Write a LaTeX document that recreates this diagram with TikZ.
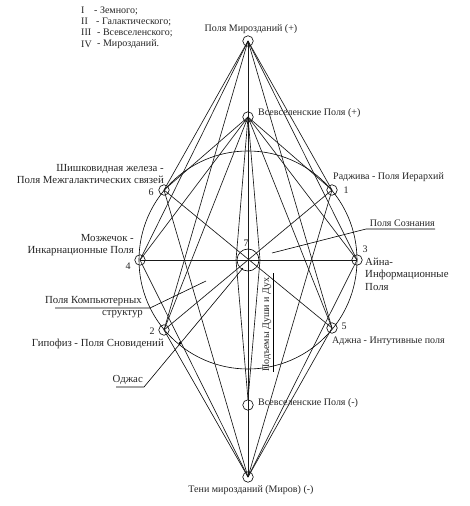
\documentclass[tikz,border=0pt]{standalone}
\usepackage{fontspec}
\setmainfont{Liberation Serif}
\begin{document}
\begin{tikzpicture}[x=1pt,y=-1pt,
  pt/.style={draw,circle,inner sep=0pt,minimum size=10.5pt,line width=.6pt},
  ln/.style={line width=.65pt,black!90},
  thk/.style={line width=.9pt,black!90},
  lbl/.style={font=\fontsize{10pt}{12pt}\selectfont,text=black!85,inner sep=0pt},
  lblb/.style={lbl,font=\fontsize{10.8pt}{12.6pt}\selectfont},
  num/.style={lbl,font=\fontsize{10pt}{12pt}\selectfont}]
\useasboundingbox (0,0) rectangle (470,506);
\fill[white] (0,0) rectangle (470,506);
\coordinate (C) at (248,260);
\node[pt] (T) at (248,41) {};
\node[pt] (Up) at (248,117) {};
\node[pt] (Um) at (248,405) {};
\node[pt] (B) at (248,477) {};
\node[pt] (p1) at (332,190) {};
\node[pt] (p3) at (357,260) {};
\node[pt] (p5) at (332,328) {};
\node[pt] (p6) at (164,190) {};
\node[pt] (p4) at (140,260) {};
\node[pt] (p2) at (164,330) {};
\node[draw,circle,inner sep=0pt,minimum size=22pt,line width=.6pt] (p7) at (C) {};
\draw[line width=.6pt] (C) circle (109);
\foreach \p in {p1,p2,p3,p4,p5,p6}{
  \draw[ln] (T.center) -- (\p.center);
  \draw[ln] (Up.center) -- (\p.center);
  \draw[ln] (B.center) -- (\p.center);
}
\draw[thk] (T.center) -- (B.center);
\draw[thk] (p4.center) -- (p3.center);
\draw[ln] (p1.center) -- (p2.center);
\draw[ln] (p6.center) -- (p5.center);
\coordinate (dl) at (236,260); \coordinate (dr) at (260,260);
\draw[ln] (Up.center) -- (dl) -- (Um.north);
\draw[ln] (Up.center) -- (dr) -- (Um.north);
% leaders
\coordinate (s1) at (272,253); \coordinate (s2) at (366,229); \coordinate (s3) at (435,229);
\draw[line width=.6pt] (s1) -- (s2) -- (s3);
\coordinate (k1) at (206,281); \coordinate (k2) at (150,308); \coordinate (k3) at (55,308);
\draw[line width=.6pt] (k1) -- (k2) -- (k3);
\coordinate (o1) at (243,268); \coordinate (o2) at (144,387); \coordinate (o3) at (116,387);
\draw[line width=.6pt] (o1) -- (o2) -- (o3);
\fill (180,343) circle (1.5);
\coordinate (d1) at (273,273); \coordinate (d2) at (273,372);
\draw[line width=.6pt] (d1) -- (d2);
% labels
\node[lbl,anchor=west] (l1) at (81,10.5) {I};
\node[lbl,anchor=west] (l1b) at (94,10.5) {- Земного;};
\node[lbl,anchor=west] (l2) at (81,21.5) {II};
\node[lbl,anchor=west] (l2b) at (96,21.5) {- Галактического;};
\node[lbl,anchor=west] (l3) at (81,32.5) {III};
\node[lbl,anchor=west] (l3b) at (97,32.5) {- Всевселенского;};
\node[lbl,anchor=west] (l4) at (81,44) {IV};
\node[lbl,anchor=west] (l4b) at (97,44) {- Мирозданий.};
\node[lbl] (tT) at (251,29) {Поля Мирозданий (+)};
\node[lbl,anchor=west] (tUp) at (258,113) {Всевселенские Поля (+)};
\node[lbl,anchor=west] (tUm) at (258,403) {Всевселенские Поля (-)};
\node[lbl] (tB) at (251,490) {Тени мирозданий (Миров) (-)};
\node[lbl,anchor=west] (t1) at (333,177) {Раджива - Поля Иерархий};
\node[num] (n1) at (346,190) {1};
\node[num] (n3) at (365,249) {3};
\node[num] (n5) at (344,326) {5};
\node[num] (n6) at (151,192) {6};
\node[num] (n4) at (128,266) {4};
\node[num] (n2) at (152,331) {2};
\node[num] (n7) at (246,243) {7};
\node[lblb,anchor=east,align=right] (t6) at (164,174) {Шишковидная железа -\\Поля Межгалактических связей};
\node[lblb,anchor=east,align=right] (t4) at (134,245) {Мозжечок -\\Инкарнационные Поля};
\node[lblb,anchor=east] (t2) at (164,344) {Гипофиз - Поля Сновидений};
\node[lblb,anchor=west,align=left] (t3) at (365,274) {Айна-\\Информационные\\Поля};
\node[lbl,anchor=west] (t5) at (332,341) {Аджна - Интутивные поля};
\node[lbl,anchor=east] (tS) at (435,223) {Поля Сознания};
\node[lblb,anchor=east] (tK1) at (142,301) {Поля Компьютерных};
\node[lblb,anchor=east] (tK2) at (143,314) {структур};
\node[lblb,anchor=east] (tO) at (143,380) {Оджас};
\node[lbl,rotate=90,anchor=west] (tD) at (267,372) {Подъемы Души и Дух};
\end{tikzpicture}
\end{document}
